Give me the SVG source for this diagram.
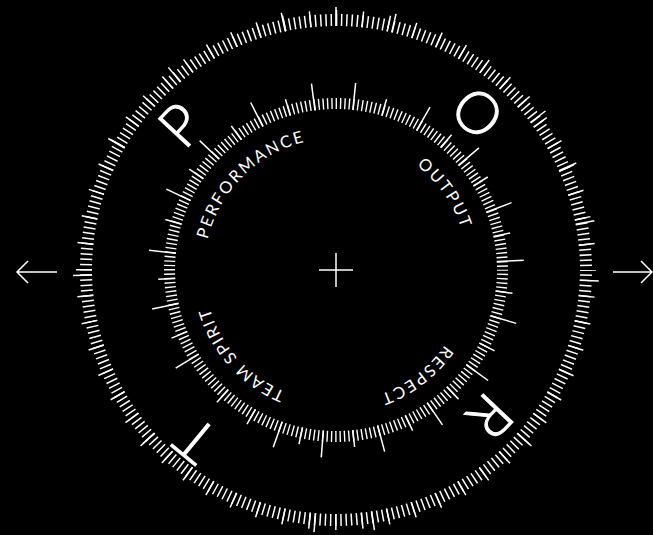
<svg xmlns="http://www.w3.org/2000/svg" xmlns:xlink="http://www.w3.org/1999/xlink" width="653" height="535" viewBox="0 0 653 535">
<style>
.tk{fill:none;stroke:#fff}
.ln{stroke:#fff;stroke-width:1.5;fill:none}
.lbl{font-family:Lato,"Open Sans","Liberation Sans",sans-serif;font-size:16.5px;fill:#fff;letter-spacing:2.2px}
.big{font-family:Lato,"Open Sans","Liberation Sans",sans-serif;font-weight:300;font-size:58px;fill:#fff;stroke:#fff;stroke-width:1}
</style>
<defs>
<line id="oL" x1="0" y1="-244" x2="0" y2="-263" class="ln"/>
<line id="iL" x1="0" y1="-161" x2="0" y2="-188" class="ln"/>
<line id="iM" x1="0" y1="-161" x2="0" y2="-178" class="ln"/>
<path id="lp" d="M336 138 A132 132 0 1 1 336 402 A132 132 0 1 1 336 138"/>
</defs>
<rect width="653" height="535" fill="#000"/>
<g id="outer-ring">
<circle class="tk" cx="336" cy="270" r="250" stroke-width="12" stroke-dasharray="1.5 3.735988" stroke-dashoffset="0.75"/>
<circle class="tk" cx="336" cy="270" r="252" stroke-width="16" stroke-dasharray="1.5 24.889378" stroke-dashoffset="0.75"/>
<g transform="translate(336 270)">
<use xlink:href="#oL" transform="rotate(0)"/>
<use xlink:href="#oL" transform="rotate(348)"/>
<use xlink:href="#oL" transform="rotate(13.2)"/>
<use xlink:href="#oL" transform="rotate(52.8)"/>
<use xlink:href="#oL" transform="rotate(66)"/>
<use xlink:href="#oL" transform="rotate(79.2)"/>
<use xlink:href="#oL" transform="rotate(92.4)"/>
<use xlink:href="#oL" transform="rotate(132)"/>
<use xlink:href="#oL" transform="rotate(171.6)"/>
<use xlink:href="#oL" transform="rotate(184.8)"/>
<use xlink:href="#oL" transform="rotate(228)"/>
<use xlink:href="#oL" transform="rotate(268.8)"/>
<use xlink:href="#oL" transform="rotate(300)"/>
<use xlink:href="#oL" transform="rotate(320.4)"/>
</g>
</g>
<g id="inner-ring">
<circle class="tk" cx="336" cy="270" r="166.5" stroke-width="11" stroke-dasharray="1.4 2.95896" stroke-dashoffset="0.7"/>
<g transform="translate(336 270)">
<use xlink:href="#iL" transform="rotate(352.5)"/>
<use xlink:href="#iL" transform="rotate(6)"/>
<use xlink:href="#iL" transform="rotate(333)"/>
<use xlink:href="#iL" transform="rotate(313.5)"/>
<use xlink:href="#iL" transform="rotate(295.5)"/>
<use xlink:href="#iL" transform="rotate(276)"/>
<use xlink:href="#iL" transform="rotate(258)"/>
<use xlink:href="#iL" transform="rotate(238.5)"/>
<use xlink:href="#iL" transform="rotate(199.5)"/>
<use xlink:href="#iL" transform="rotate(184.5)"/>
<use xlink:href="#iL" transform="rotate(165)"/>
<use xlink:href="#iL" transform="rotate(145.5)"/>
<use xlink:href="#iL" transform="rotate(126)"/>
<use xlink:href="#iL" transform="rotate(106.5)"/>
<use xlink:href="#iL" transform="rotate(87)"/>
<use xlink:href="#iL" transform="rotate(69)"/>
<use xlink:href="#iL" transform="rotate(49.5)"/>
<use xlink:href="#iL" transform="rotate(30)"/>
<use xlink:href="#iM" transform="rotate(343.5)"/>
<use xlink:href="#iM" transform="rotate(16.5)"/>
<use xlink:href="#iM" transform="rotate(40.5)"/>
<use xlink:href="#iM" transform="rotate(58.5)"/>
<use xlink:href="#iM" transform="rotate(78)"/>
<use xlink:href="#iM" transform="rotate(97.5)"/>
<use xlink:href="#iM" transform="rotate(117)"/>
<use xlink:href="#iM" transform="rotate(136.5)"/>
<use xlink:href="#iM" transform="rotate(154.5)"/>
<use xlink:href="#iM" transform="rotate(174)"/>
<use xlink:href="#iM" transform="rotate(192)"/>
<use xlink:href="#iM" transform="rotate(210)"/>
<use xlink:href="#iM" transform="rotate(222)"/>
<use xlink:href="#iM" transform="rotate(247.5)"/>
<use xlink:href="#iM" transform="rotate(267)"/>
<use xlink:href="#iM" transform="rotate(286.5)"/>
<use xlink:href="#iM" transform="rotate(304.5)"/>
<use xlink:href="#iM" transform="rotate(324)"/>
</g>
</g>
<g id="center-cross">
<path class="ln" stroke-width="1.3" d="M319 270 H353 M336 253 V287"/>
</g>
<g id="arrows">
<path class="ln" stroke-width="1.8" d="M57 272 H17 M28 261 L17 272 L28 283"/>
<path class="ln" stroke-width="1.8" d="M613 272 H652 M641 261 L652 272 L641 283"/>
</g>
<g id="labels">
<text class="lbl" text-anchor="middle"><textPath xlink:href="#lp" startOffset="725.7">PERFORMANCE</textPath></text>
<text class="lbl" text-anchor="middle"><textPath xlink:href="#lp" startOffset="126.7">OUTPUT</textPath></text>
<text class="lbl" text-anchor="middle"><textPath xlink:href="#lp" startOffset="328.9">RESPECT</textPath></text>
<text class="lbl" text-anchor="middle" style="letter-spacing:1.8px"><textPath xlink:href="#lp" startOffset="525.7">TEAM SPIRIT</textPath></text>
</g>
<g id="letter-P"><text class="big" x="336" y="78" text-anchor="middle" transform="rotate(313 336 270)">P</text></g>
<g id="letter-O"><text class="big" x="336" y="79" text-anchor="middle" transform="rotate(42 336 270)">O</text></g>
<g id="letter-R"><text class="big" x="336" y="78" text-anchor="middle" transform="rotate(133.5 336 270)">R</text></g>
<g id="letter-T"><text class="big" x="336" y="70" text-anchor="middle" transform="rotate(219.5 336 270)">T</text></g>
</svg>
